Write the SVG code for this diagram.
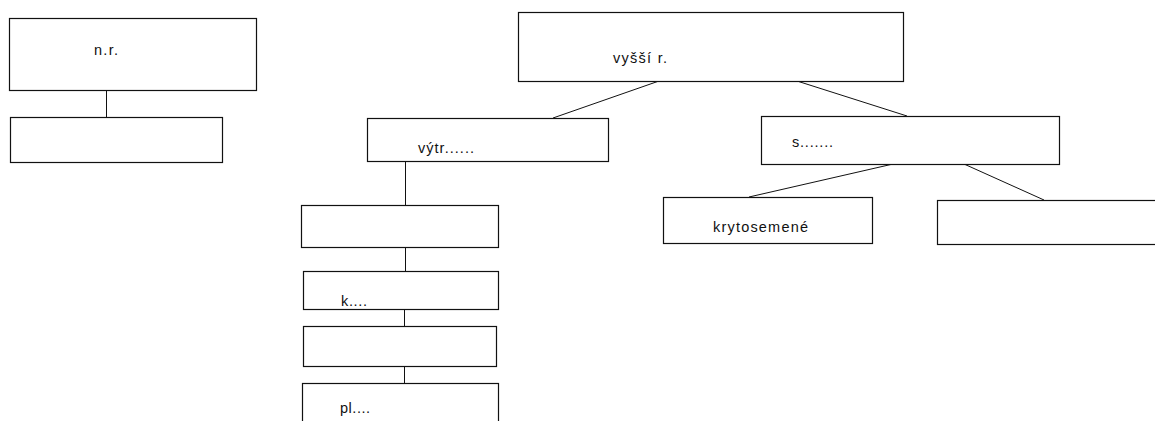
<svg xmlns="http://www.w3.org/2000/svg" width="1155" height="421" viewBox="0 0 1155 421">
<style>
.box{fill:#fff;stroke:#111;stroke-width:1.2}
.ln{stroke:#111;stroke-width:1;fill:none}
.t{font-family:"Liberation Sans",Arial,sans-serif;font-size:14.5px;fill:#111}
</style>
<rect x="0" y="0" width="1155" height="421" fill="#fff"/>
<g id="connectors">
<line class="ln" x1="106.5" y1="90" x2="106.5" y2="118"/>
<line class="ln" x1="659" y1="81" x2="553" y2="118"/>
<line class="ln" x1="797" y1="81" x2="907" y2="116"/>
<line class="ln" x1="405.5" y1="161" x2="405.5" y2="205"/>
<line class="ln" x1="405.5" y1="247" x2="405.5" y2="271"/>
<line class="ln" x1="404.5" y1="309" x2="404.5" y2="326"/>
<line class="ln" x1="404.5" y1="366" x2="404.5" y2="383"/>
<line class="ln" x1="893" y1="164" x2="749" y2="197"/>
<line class="ln" x1="964" y1="164" x2="1044" y2="200"/>
</g>
<g id="node-nr">
<rect class="box" x="9.5" y="18.5" width="247" height="72"/>
<text class="t" x="94" y="55" textLength="24">n.r.</text>
</g>
<g id="node-nr-child">
<rect class="box" x="10.5" y="117.5" width="212" height="45"/>
</g>
<g id="node-vyssi">
<rect class="box" x="518.5" y="12.5" width="385" height="69"/>
<text class="t" x="613" y="63" textLength="54">vyšší r.</text>
</g>
<g id="node-vytr">
<rect class="box" x="367.5" y="118.5" width="241" height="43"/>
<text class="t" x="418" y="153" textLength="56">výtr......</text>
</g>
<g id="node-s">
<rect class="box" x="761.5" y="116.5" width="298" height="48"/>
<text class="t" x="792" y="147" textLength="41">s.......</text>
</g>
<g id="node-box3">
<rect class="box" x="301.5" y="205.5" width="197" height="42"/>
</g>
<g id="node-k">
<rect class="box" x="303.5" y="271.5" width="195" height="38"/>
<text class="t" x="341" y="306" textLength="26">k....</text>
</g>
<g id="node-box5">
<rect class="box" x="303.5" y="326.5" width="193" height="40"/>
</g>
<g id="node-pl">
<rect class="box" x="302.5" y="383.5" width="196" height="60"/>
<text class="t" x="340" y="413" textLength="30">pl....</text>
</g>
<g id="node-krytosemene">
<rect class="box" x="663.5" y="197.5" width="209" height="46"/>
<text class="t" x="713" y="232" textLength="95">krytosemené</text>
</g>
<g id="node-right">
<rect class="box" x="937.5" y="200.5" width="230" height="44"/>
</g>
</svg>
